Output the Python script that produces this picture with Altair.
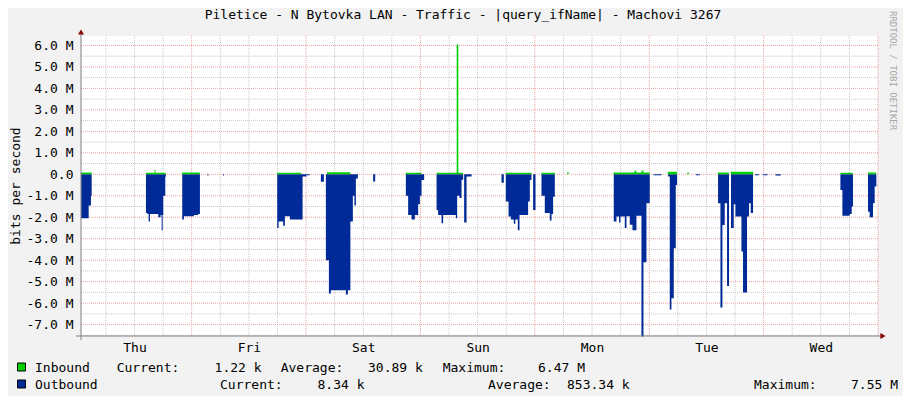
import altair as alt
import pandas as pd

# ---------------- data (hours since Thu 00:00, Mbit/s) ----------------
# Outbound is drawn below zero; each value holds until the next time point.
out_hours = [0.78, 2.39, 2.87, 3.02,
             14.41, 14.68, 14.97, 15.25, 16.99, 17.49, 17.70, 17.91, 18.04, 18.46, 18.60,
             22.02, 22.38, 24.48, 25.38, 25.73,
             27.31, 27.52, 30.56, 30.77,
             41.95, 42.24, 43.20, 43.56, 44.61, 47.27, 48.07, 48.80,
             51.11, 51.74,
             52.16, 52.79, 53.21, 56.36, 56.77, 57.30, 57.82, 58.14, 58.45, 58.87,
             62.08, 62.50,
             68.94, 69.42, 70.13, 70.83, 71.52, 71.88, 72.23, 72.78,
             75.38, 75.71, 76.43, 76.76, 79.43, 79.70, 80.20, 80.62, 80.96, 81.17, 81.67, 82.72,
             89.01, 89.49,
             89.91, 90.48, 90.96, 91.59, 91.90, 92.43, 92.78, 94.59, 94.95, 95.30, 95.64, 96.14,
             97.40, 98.09, 99.14, 99.50, 99.83, 100.19,
             112.56, 113.13, 113.67, 113.97, 114.87, 115.23, 115.92, 116.48, 117.32, 118.37, 118.79, 119.42, 120.11,
             120.90, 122.60,
             123.95, 124.31, 124.66, 125.15, 125.57, 125.84,
             129.80, 130.60,
             134.44, 134.94, 135.36, 135.84, 136.33, 136.74, 137.16, 137.73, 138.09, 139.35, 139.68, 140.52, 140.94, 141.30, 141.78,
             142.20, 143.00, 143.80, 144.80, 146.50, 147.60,
             160.11, 160.53, 162.06, 162.48, 162.75,
             165.90, 166.25, 166.95, 167.30, 167.66, 168.00]
out_mbps = [-2.05, -1.45, -1.0, 0,
            -1.8, -1.85, -2.2, -1.85, -2.0, -1.9, -2.6, -1.9, -1.0, -0.1, 0,
            -2.1, -1.95, -1.9, -1.85, 0,
            -0.06, 0, -0.06, 0,
            -2.5, -2.2, -2.4, -1.95, -2.1, -0.1, -0.05, 0,
            -0.35, 0,
            -4.0, -5.55, -5.4, -5.6, -5.4, -2.2, -1.0, -1.45, -0.2, 0,
            -0.34, 0,
            -1.0, -1.9, -2.1, -1.9, -1.4, -1.0, -0.26, 0,
            -1.66, -1.9, -2.28, -1.9, -2.05, -1.0, -1.1, -0.25, 0, -2.25, -0.1, 0,
            -0.39, 0,
            -1.27, -1.97, -2.1, -2.3, -2.1, -2.6, -1.9, -1.27, -0.26, 0, -1.66, 0,
            -1.0, -1.8, -2.15, -1.85, -1.05, 0,
            -2.2, -1.97, -2.25, -1.97, -2.5, -1.95, -2.35, -2.6, -1.93, -7.55, -4.1, -1.35, 0,
            -0.05, 0,
            -0.1, -6.3, -5.77, -3.44, -0.5, 0,
            -0.05, 0,
            -1.35, -6.2, -2.36, -1.35, -5.2, 0, -2.5, -1.4, -1.97, -3.6, -5.5, -1.97, -1.35, -1.8, 0,
            -0.05, 0, -0.05, 0, -0.06, 0,
            -0.73, -1.93, -1.85, -1.5, 0,
            -1.74, -2.0, -1.35, -0.57, 0, 0]

in_hours = [0.78, 3.0, 14.4, 16.2, 16.4, 18.5, 22.0, 25.7, 41.9, 47.0, 52.4, 57.3,
            68.9, 72.2, 75.4, 79.6, 79.95, 80.9, 89.9, 95.3, 97.4, 100.2, 102.8, 103.1,
            112.5, 116.9, 117.3, 118.4, 118.8, 120.1, 123.9, 125.8, 128.0, 128.3,
            134.4, 136.7, 137.1, 141.8, 160.1, 162.7, 165.9, 167.6, 168.0]
in_mbps = [0.08, 0, 0.07, 0.2, 0.07, 0, 0.08, 0, 0.07, 0, 0.1, 0,
           0.07, 0, 0.07, 6.05, 0.07, 0, 0.07, 0, 0.07, 0, 0.1, 0,
           0.08, 0.16, 0.08, 0.18, 0.08, 0, 0.12, 0, 0.08, 0,
           0.08, 0, 0.12, 0, 0.07, 0, 0.08, 0, 0]

day_names = ["Thu", "Fri", "Sat", "Sun", "Mon", "Tue", "Wed"]
label_hours = [12, 36, 60, 84, 108, 132, 156]
major_x = [24, 48, 72, 96, 120, 144, 168]
minor_x = [h for h in range(6, 168, 6) if h % 24 != 0]
major_y = list(range(-7, 7))
minor_y = [v + 0.5 for v in range(-8, 6)]

legend_rows = [
    ["Inbound", "Current:", "1.22 k", "Average:", "30.89 k", "Maximum:", "6.47 M"],
    ["Outbound", "Current:", "8.34 k", "Average:", "853.34 k", "Maximum:", "7.55 M"],
]
title_text = "Piletice - N Bytovka LAN - Traffic - |query_ifName| - Machovi 3267"

# ---------------- chart ----------------
FONT = "DejaVu Sans Mono"
W, H = 797, 300
XDOM = [0.78, 168]
YDOM = [-7.53, 6.44]

day_expr = "[" + ",".join("'%s'" % d for d in day_names) + "][floor(datum.value/24)]"
xaxis = alt.Axis(values=label_hours, labelExpr=day_expr, ticks=False, domain=False,
                 grid=False, labelFont=FONT, labelFontSize=13, labelColor="#000000",
                 labelPadding=5, title=None)
yaxis = alt.Axis(values=major_y,
                 labelExpr="datum.value == 0 ? '0.0' : (datum.value < 0 ? '-' : '') + format(abs(datum.value), '.1f') + ' M'",
                 ticks=False, domain=False, grid=False, labelFont=FONT, labelFontSize=13,
                 labelColor="#000000", labelPadding=8, title=None)

xs = alt.Scale(domain=XDOM, nice=False, zero=False)
ys = alt.Scale(domain=YDOM, nice=False, zero=False)

df_out = pd.DataFrame({"t": out_hours, "v": out_mbps})
df_in = pd.DataFrame({"t": in_hours, "v": in_mbps})

gx_minor = alt.Chart(pd.DataFrame({"t": minor_x})).mark_rule(
    color="#C8C8C8", strokeDash=[1, 1], strokeWidth=1).encode(
    x=alt.X("t:Q", scale=xs, axis=xaxis))
gx_major = alt.Chart(pd.DataFrame({"t": major_x})).mark_rule(
    color="#F0A0A0", strokeDash=[1, 1], strokeWidth=1).encode(
    x=alt.X("t:Q", scale=xs, axis=xaxis))
gy_minor = alt.Chart(pd.DataFrame({"v": minor_y})).mark_rule(
    color="#C8C8C8", strokeDash=[1, 1], strokeWidth=1).encode(
    y=alt.Y("v:Q", scale=ys, axis=yaxis))
gy_major = alt.Chart(pd.DataFrame({"v": major_y})).mark_rule(
    color="#F0A0A0", strokeDash=[1, 1], strokeWidth=1).encode(
    y=alt.Y("v:Q", scale=ys, axis=yaxis))

area_out = alt.Chart(df_out).mark_area(color="#002A97", interpolate="step-after", opacity=1).encode(
    x=alt.X("t:Q", scale=xs, axis=xaxis),
    y=alt.Y("v:Q", scale=ys, axis=yaxis, stack=None),
    y2=alt.datum(0))
area_in = alt.Chart(df_in).mark_area(color="#00CF00", interpolate="step-after", opacity=1).encode(
    x=alt.X("t:Q", scale=xs, axis=xaxis),
    y=alt.Y("v:Q", scale=ys, axis=yaxis, stack=None),
    y2=alt.datum(0))

one = alt.Data(values=[{}])
AX = "#808080"
x_axis_line = alt.Chart(one).mark_rule(color=AX, strokeWidth=1).encode(
    x=alt.value(-5), x2=alt.value(W + 4), y=alt.value(H))
y_axis_line = alt.Chart(one).mark_rule(color=AX, strokeWidth=1).encode(
    x=alt.value(0), y=alt.value(-5), y2=alt.value(H + 4))
arrow_up = alt.Chart(one).mark_point(shape="triangle-up", filled=True, color="#8B0000",
                                     size=36, opacity=1).encode(
    x=alt.value(0), y=alt.value(-4))
arrow_right = alt.Chart(one).mark_point(shape="triangle-right", filled=True, color="#8B0000",
                                        size=36, opacity=1).encode(
    x=alt.value(W + 5), y=alt.value(H))


def txt(s, x, y, align="left", size=13, color="#000000", angle=0, baseline="alphabetic"):
    return alt.Chart(one).mark_text(text=s, font=FONT, fontSize=size, color=color,
                                    align=align, baseline=baseline, angle=angle).encode(
        x=alt.value(x), y=alt.value(y))


texts = [
    txt(title_text, 382, -17, align="center"),
    txt("bits per second", -65, H / 2, align="center", angle=270, baseline="middle"),
    txt("RRDTOOL / TOBI OETIKER", 812, -25, align="left", size=9, color="#A8A8A8",
        angle=90, baseline="middle"),
]
row_x = [[-46, 35.7, 133.6, 199.7, 287, 361.7, 457],
         [-46, 139, 236.5, 407, 486, 673, 770]]
row_y = [336.3, 353.3]
for r in range(2):
    for s, xx in zip(legend_rows[r], row_x[r]):
        texts.append(txt(s, xx, row_y[r]))

swatches = [
    alt.Chart(one).mark_rect(color="#00CF00", stroke="#000000", strokeWidth=1).encode(
        x=alt.value(-63.5), x2=alt.value(-55.5), y=alt.value(327), y2=alt.value(335)),
    alt.Chart(one).mark_rect(color="#002A97", stroke="#000000", strokeWidth=1).encode(
        x=alt.value(-63.5), x2=alt.value(-55.5), y=alt.value(344), y2=alt.value(352)),
]

chart = alt.layer(
    gx_minor, gx_major, gy_minor, gy_major, area_out, area_in,
    x_axis_line, y_axis_line, arrow_up, arrow_right, *texts, *swatches
).properties(
    width=W, height=H,
    padding={"left": 73, "top": 28, "right": 25, "bottom": 60},
    autosize=alt.AutoSizeParams(type="none"),
    background="#F2F2F2",
).configure_view(fill="#FFFFFF", strokeWidth=0)

chart.save("out.html", embed_options={"renderer": "svg", "actions": False})
